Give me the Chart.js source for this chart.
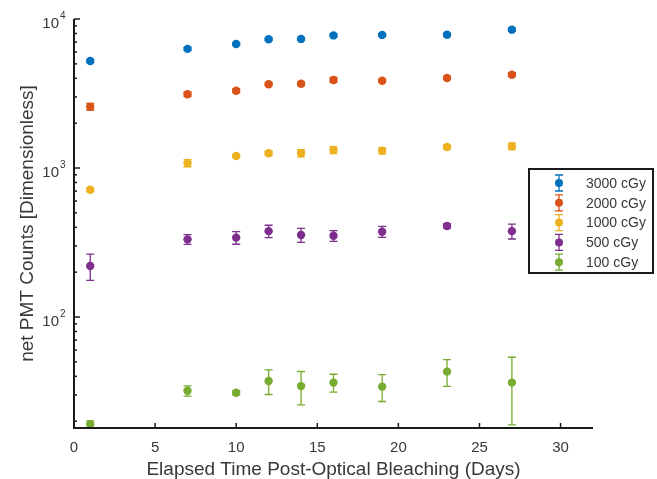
<!DOCTYPE html>
<html lang="en">

<head>
    <meta charset="UTF-8">
    <title>net PMT Counts vs Elapsed Time</title>
    <script src="https://cdn.jsdelivr.net/npm/chart.js"></script>
    <style>
        body {
            margin: 0;
            background: #ffffff;
        }

        #chart {
            display: block;
        }
    </style>
</head>

<body>

    <canvas id="chart" width="657" height="479"></canvas>

    <script type='text/javascript'>
        // Days after optical bleaching
        var days = [1, 7, 10, 12, 14, 16, 19, 23, 27];

        // Mean counts per dose
        var counts3000 = [5220, 6300, 6800, 7310, 7350, 7760, 7820, 7850, 8480];
        var counts2000 = [2580, 3125, 3300, 3650, 3680, 3900, 3855, 4020, 4230];
        var counts1000 = [715, 1080, 1205, 1256, 1256, 1321, 1306, 1383, 1400];
        var counts500 = [220, 332, 341, 377, 355, 351, 374, 408, 377];
        var counts100 = [19.1, 32, 31, 37.2, 34.4, 36.3, 34.1, 43, 36.3];

        // Error bar half widths
        var err3000 = [120, 150, 150, 150, 130, 150, 150, 150, 200];
        var err2000 = [130, 100, 90, 90, 110, 150, 90, 100, 130];
        var err1000 = [20, 60, 30, 40, 70, 70, 60, 45, 70];
        var err500 = [44, 25, 33, 36, 38, 29, 32, 15, 43];
        var err100 = [1, 2.5, 1, 7, 8.7, 5, 7, 8.8, 17.4];

        var doseLabels = ["3000 cGy", "2000 cGy", "1000 cGy", "500 cGy", "100 cGy"];
        var xTicks = [0, 5, 10, 15, 20, 25, 30];
        var yTicks = [100, 1000, 10000];
        var yTickExp = ["2", "3", "4"];

        var colors = ["#0072BD", "#D95319", "#EDB120", "#7E2F8E", "#77AC30"];
        var allCounts = [counts3000, counts2000, counts1000, counts500, counts100];
        var allErrors = [err3000, err2000, err1000, err500, err100];

        var textColor = "#383838";
        var axisColor = "#1a1a1a";
        var fontName = "'Liberation Sans', Arial, sans-serif";

        var datasets = allCounts.map(function (vals, k) {
            return {
                label: doseLabels[k],
                data: days.map(function (d, i) { return { x: d, y: vals[i] }; }),
                errors: allErrors[k],
                pointRadius: 4.2,
                pointBackgroundColor: colors[k],
                pointBorderColor: colors[k],
                pointBorderWidth: 0,
                showLine: false
            };
        });

        // Error bars, drawn under the markers
        var errorBars = {
            id: 'errorBars',
            beforeDatasetsDraw: function (chart) {
                var ctx = chart.ctx;
                var xs = chart.scales.x, ys = chart.scales.y;
                var area = chart.chartArea;
                ctx.save();
                ctx.beginPath();
                ctx.rect(area.left, area.top - 2, area.right - area.left, area.bottom - area.top + 2);
                ctx.clip();
                chart.data.datasets.forEach(function (ds, k) {
                    ctx.strokeStyle = colors[k];
                    ctx.lineWidth = 1.3;
                    ds.data.forEach(function (p, i) {
                        var e = ds.errors[i];
                        var px = xs.getPixelForValue(p.x);
                        var top = ys.getPixelForValue(p.y + e);
                        var bot = ys.getPixelForValue(Math.max(p.y - e, 1));
                        ctx.beginPath();
                        ctx.moveTo(px, top);
                        ctx.lineTo(px, bot);
                        ctx.moveTo(px - 4, top);
                        ctx.lineTo(px + 4, top);
                        ctx.moveTo(px - 4, bot);
                        ctx.lineTo(px + 4, bot);
                        ctx.stroke();
                    });
                });
                ctx.restore();
            }
        };

        // MATLAB style axes, labels and legend box
        var axesDecor = {
            id: 'axesDecor',
            afterDraw: function (chart) {
                var ctx = chart.ctx;
                var xs = chart.scales.x, ys = chart.scales.y;
                var a = chart.chartArea;
                ctx.save();

                // axis lines
                ctx.strokeStyle = axisColor;
                ctx.lineWidth = 2;
                ctx.beginPath();
                ctx.moveTo(a.left, a.top);
                ctx.lineTo(a.left, a.bottom);
                ctx.lineTo(a.right, a.bottom);
                ctx.stroke();

                // x ticks and labels
                ctx.lineWidth = 1.5;
                ctx.fillStyle = textColor;
                ctx.font = "15px " + fontName;
                ctx.textAlign = "center";
                ctx.textBaseline = "alphabetic";
                xTicks.forEach(function (t) {
                    var px = xs.getPixelForValue(t);
                    ctx.beginPath();
                    ctx.moveTo(px, a.bottom);
                    ctx.lineTo(px, a.bottom - 5);
                    ctx.stroke();
                    ctx.fillText(String(t), px, a.bottom + 24);
                });

                // y minor ticks
                [10, 100, 1000].forEach(function (dec) {
                    for (var m = 2; m <= 9; m++) {
                        var v = m * dec;
                        if (v < ys.min || v > ys.max) continue;
                        var py = ys.getPixelForValue(v);
                        ctx.beginPath();
                        ctx.moveTo(a.left, py);
                        ctx.lineTo(a.left + 3, py);
                        ctx.stroke();
                    }
                });

                // y major ticks with 10^n labels
                yTicks.forEach(function (t, i) {
                    var py = ys.getPixelForValue(t);
                    ctx.beginPath();
                    ctx.moveTo(a.left, py);
                    ctx.lineTo(a.left + 6, py);
                    ctx.stroke();
                    ctx.textAlign = "right";
                    ctx.font = "15px " + fontName;
                    ctx.fillText("10", a.left - 15, py + 8.5);
                    ctx.textAlign = "left";
                    ctx.font = "10px " + fontName;
                    ctx.fillText(yTickExp[i], a.left - 14, py);
                });

                // axis titles
                ctx.font = "19px " + fontName;
                ctx.textAlign = "center";
                ctx.fillText("Elapsed Time Post-Optical Bleaching (Days)", (a.left + a.right) / 2, 475);
                ctx.save();
                ctx.translate(33, (a.top + a.bottom) / 2);
                ctx.rotate(-Math.PI / 2);
                ctx.fillText("net PMT Counts [Dimensionless]", 0, 0);
                ctx.restore();

                // legend
                var lx = 529, ly = 169, lw = 124, lh = 104;
                ctx.fillStyle = "#ffffff";
                ctx.fillRect(lx, ly, lw, lh);
                ctx.strokeStyle = axisColor;
                ctx.lineWidth = 2;
                ctx.strokeRect(lx, ly, lw, lh);
                ctx.font = "14px " + fontName;
                ctx.textAlign = "left";
                ctx.textBaseline = "middle";
                doseLabels.forEach(function (lab, k) {
                    var cy = 183 + k * 19.8;
                    var mx = 559;
                    ctx.strokeStyle = colors[k];
                    ctx.lineWidth = 1.3;
                    ctx.beginPath();
                    ctx.moveTo(mx, cy - 8);
                    ctx.lineTo(mx, cy + 8);
                    ctx.moveTo(mx - 4, cy - 8);
                    ctx.lineTo(mx + 4, cy - 8);
                    ctx.moveTo(mx - 4, cy + 8);
                    ctx.lineTo(mx + 4, cy + 8);
                    ctx.stroke();
                    ctx.fillStyle = colors[k];
                    ctx.beginPath();
                    ctx.arc(mx, cy, 4, 0, Math.PI * 2);
                    ctx.fill();
                    ctx.fillStyle = textColor;
                    ctx.fillText(lab, 586, cy + 1);
                });

                ctx.restore();
            }
        };

        var ctx = document.getElementById('chart').getContext('2d');

        new Chart(ctx, {
            type: 'scatter',
            data: { datasets: datasets },
            options: {
                responsive: false,
                animation: false,
                devicePixelRatio: 1,
                layout: {
                    padding: { left: 74, top: 19, right: 64, bottom: 51 }
                },
                plugins: {
                    legend: { display: false },
                    tooltip: { enabled: false }
                },
                scales: {
                    x: { type: 'linear', min: 0, max: 32, display: false },
                    y: { type: 'logarithmic', min: 18, max: 10000, display: false }
                }
            },
            plugins: [errorBars, axesDecor]
        });
    </script>

</body>

</html>
